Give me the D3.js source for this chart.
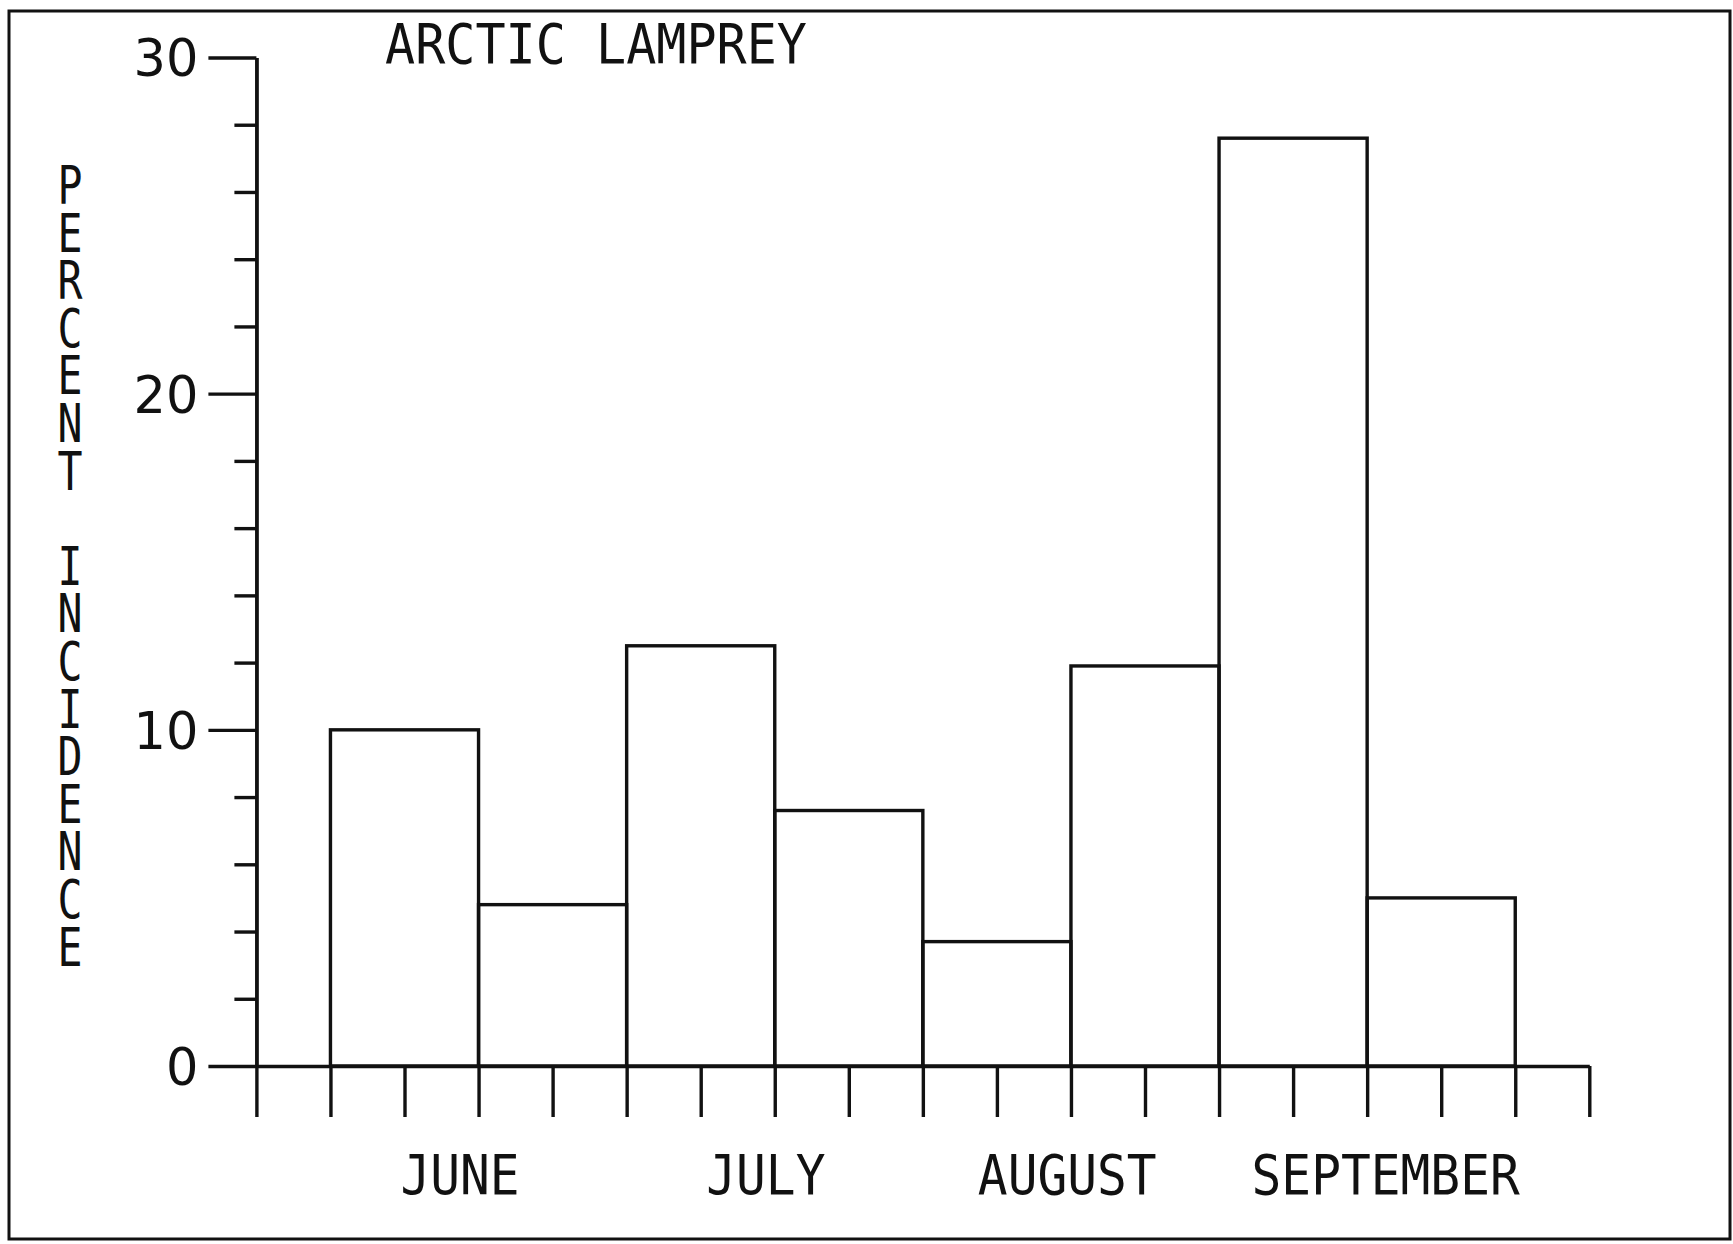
<!DOCTYPE html>
<html>
<head>
<meta charset="utf-8">
<script src="https://cdn.jsdelivr.net/npm/d3@7"></script>
<style>
  html, body { margin: 0; padding: 0; background: #fff; }
  svg { display: block; }
</style>
</head>
<body>
<svg id="chart" width="1733" height="1244"></svg>
<script>
// ---- data ----
const title = "ARCTIC LAMPREY";
const yAxisLabel = "PERCENT INCIDENCE";
const months = ["JUNE", "JULY", "AUGUST", "SEPTEMBER"];
const periods = ["JUNE 1", "JUNE 2", "JULY 1", "JULY 2", "AUGUST 1", "AUGUST 2", "SEPTEMBER 1", "SEPTEMBER 2"];
const values = [10.0, 4.8, 12.5, 7.6, 3.7, 11.9, 27.6, 5.0];
const yMajorTicks = [0, 10, 20, 30];
const yMinorTicks = [2, 4, 6, 8, 12, 14, 16, 18, 22, 24, 26, 28];
const xTicks = [0, 1, 2, 3, 4, 5, 6, 7, 8, 9, 10, 11, 12, 13, 14, 15, 16, 17, 18];

// ---- layout ----
const svg = d3.select("#chart");
const x0 = 256.4, x1 = 1589.3;
const yBase = 1066, yTop = 57.5;
const x = d3.scaleLinear().domain([0, 18]).range([x0, x1]);
const y = d3.scaleLinear().domain([0, 30]).range([yBase, yTop]);
const ink = "#111";
const lw = 3.4;
const plotFont = "'DejaVu Sans Mono', 'Liberation Mono', monospace";

svg.append("rect").attr("width", 1733).attr("height", 1244).attr("fill", "#fff");

// outer frame
svg.append("rect")
  .attr("x", 9).attr("y", 11).attr("width", 1721).attr("height", 1228)
  .attr("fill", "none").attr("stroke", ink).attr("stroke-width", 3);

// bars: each bar covers two x-tick intervals, starting at tick 1
const bars = svg.append("g");
bars.selectAll("rect").data(values).join("rect")
  .attr("x", (d, i) => x(1 + 2 * i))
  .attr("width", (d, i) => x(3 + 2 * i) - x(1 + 2 * i))
  .attr("y", d => y(d))
  .attr("height", d => y(0) - y(d))
  .attr("fill", "none")
  .attr("stroke", ink)
  .attr("stroke-width", lw);

// x axis (ticks hang below)
const xAxis = d3.axisBottom(x).tickValues(xTicks).tickSize(51).tickSizeOuter(0).tickFormat("");
const gx = svg.append("g").attr("transform", `translate(0,${yBase})`).call(xAxis);
gx.selectAll("path, line").attr("stroke", ink).attr("stroke-width", lw);

// y axis minor ticks
const yMinor = d3.axisLeft(y).tickValues(yMinorTicks).tickSize(22).tickSizeOuter(0).tickFormat("");
const gym = svg.append("g").attr("transform", `translate(${x0},0)`).call(yMinor);
gym.selectAll("path, line").attr("stroke", ink).attr("stroke-width", lw);

// y axis major ticks with labels
const yMajor = d3.axisLeft(y).tickValues(yMajorTicks).tickSize(48).tickSizeOuter(0).tickPadding(10).tickFormat(d3.format("d"));
const gy = svg.append("g").attr("transform", `translate(${x0},0)`).call(yMajor);
gy.selectAll("path, line").attr("stroke", ink).attr("stroke-width", lw);
gy.selectAll("text")
  .attr("fill", ink)
  .style("font-family", "'DejaVu Sans', sans-serif")
  .style("font-size", "51px")
  .attr("dy", "0.36em");

// title
svg.append("text")
  .attr("x", 385).attr("y", 63)
  .attr("textLength", 422).attr("lengthAdjust", "spacingAndGlyphs")
  .style("font-family", plotFont).style("font-size", "56px")
  .attr("fill", ink)
  .text(title);

// month labels under their pair of bars
const monthShift = [-0.25, -0.12, -0.05, 0.25];
svg.append("g").selectAll("text").data(months).join("text")
  .attr("x", (d, i) => x(3 + 4 * i + monthShift[i]))
  .attr("y", 1194)
  .attr("text-anchor", "middle")
  .attr("textLength", d => d.length * 29.8)
  .attr("lengthAdjust", "spacingAndGlyphs")
  .style("font-family", plotFont).style("font-size", "56px")
  .attr("fill", ink)
  .text(d => d);

// vertical stacked y-axis label, one letter per line
const chars = yAxisLabel.split("");
svg.append("g").selectAll("text").data(chars).join("text")
  .attr("x", 70)
  .attr("y", (d, i) => 204 + i * 47.6)
  .attr("text-anchor", "middle")
  .attr("textLength", d => d === " " ? null : 25)
  .attr("lengthAdjust", "spacingAndGlyphs")
  .style("font-family", plotFont).style("font-size", "53px")
  .attr("fill", ink)
  .text(d => d);
</script>
</body>
</html>
